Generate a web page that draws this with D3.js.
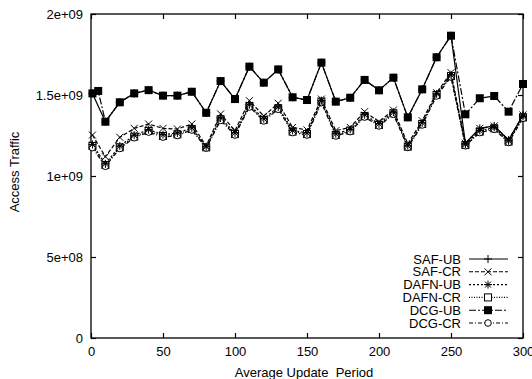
<!DOCTYPE html>
<html>
<head>
<meta charset="utf-8">
<script src="https://cdn.jsdelivr.net/npm/d3@7/dist/d3.min.js"></script>
<style>
  html, body { margin: 0; padding: 0; background: #fff; }
  svg text { font-family: "Liberation Sans", Arial, Helvetica, sans-serif; fill: #000; }
</style>
</head>
<body>
<main></main>
<script>
'use strict'

// update periods (x); DCG-UB has an extra sample at 5
var periodsUB = [1, 5, 10, 20, 30, 40, 50, 60, 70, 80, 90, 100, 110, 120, 130, 140, 150,
  160, 170, 180, 190, 200, 210, 220, 230, 240, 250, 260, 270, 280, 290, 300]
var periods = [1, 10, 20, 30, 40, 50, 60, 70, 80, 90, 100, 110, 120, 130, 140, 150,
  160, 170, 180, 190, 200, 210, 220, 230, 240, 250, 260, 270, 280, 290, 300]

// values in units of 1e9
var dcgUB = [1.510, 1.525, 1.335, 1.455, 1.510, 1.530, 1.496, 1.496, 1.520, 1.390, 1.586, 1.475,
  1.675, 1.576, 1.658, 1.486, 1.469, 1.700, 1.459, 1.483, 1.593, 1.529, 1.607, 1.362,
  1.535, 1.733, 1.866, 1.381, 1.480, 1.494, 1.397, 1.568]
var safUB = [1.510, 1.335, 1.455, 1.510, 1.530, 1.496, 1.496, 1.520, 1.390, 1.586, 1.475,
  1.675, 1.576, 1.658, 1.486, 1.469, 1.700, 1.459, 1.483, 1.593, 1.529, 1.607, 1.362,
  1.535, 1.733, 1.866, 1.202, 1.294, 1.309, 1.222, 1.377]
var safCR = [1.253, 1.119, 1.239, 1.294, 1.321, 1.294, 1.290, 1.321, 1.185, 1.383, 1.280,
  1.465, 1.370, 1.449, 1.300, 1.284, 1.475, 1.280, 1.300, 1.397, 1.335, 1.407, 1.198,
  1.341, 1.514, 1.638, 1.202, 1.294, 1.309, 1.222, 1.377]
var dafnUB = [1.195, 1.075, 1.185, 1.252, 1.286, 1.255, 1.265, 1.297, 1.181, 1.358, 1.266,
  1.440, 1.353, 1.426, 1.281, 1.266, 1.465, 1.260, 1.287, 1.378, 1.322, 1.394, 1.186,
  1.328, 1.507, 1.624, 1.196, 1.281, 1.300, 1.217, 1.368]
var dafnCR = [1.185, 1.068, 1.177, 1.243, 1.278, 1.247, 1.257, 1.290, 1.177, 1.350, 1.259,
  1.432, 1.346, 1.418, 1.274, 1.259, 1.459, 1.253, 1.280, 1.370, 1.315, 1.387, 1.181,
  1.321, 1.500, 1.617, 1.191, 1.274, 1.294, 1.212, 1.362]
var dcgCR = [1.175, 1.060, 1.170, 1.236, 1.271, 1.240, 1.250, 1.284, 1.172, 1.343, 1.253,
  1.426, 1.340, 1.412, 1.268, 1.253, 1.453, 1.247, 1.274, 1.364, 1.309, 1.381, 1.176,
  1.315, 1.494, 1.611, 1.187, 1.268, 1.288, 1.207, 1.356]

var xTicks = [0, 50, 100, 150, 200, 250, 300]
var yTicks = [0, 5e8, 1e9, 1.5e9, 2e9]
var yTickLabels = ['0', '5e+08', '1e+09', '1.5e+09', '2e+09']

var seriesNames = ['SAF-UB', 'SAF-CR', 'DAFN-UB', 'DAFN-CR', 'DCG-UB', 'DCG-CR']
var seriesX = [periods, periods, periods, periods, periodsUB, periods]
var seriesY = [safUB, safCR, dafnUB, dafnCR, dcgUB, dcgCR]

var styles = {
  'SAF-UB':  { dash: null,        marker: 'plus' },
  'SAF-CR':  { dash: '4,2',       marker: 'cross' },
  'DAFN-UB': { dash: '2,2',       marker: 'star' },
  'DAFN-CR': { dash: '1,1.5',     marker: 'square' },
  'DCG-UB':  { dash: '7,2,2,2',   marker: 'filled' },
  'DCG-CR':  { dash: '4,2,1,2',   marker: 'circle' }
}

var width = 532, height = 379
var margin = { top: 14, right: 9, bottom: 41, left: 91 }
var iw = width - margin.left - margin.right
var ih = height - margin.top - margin.bottom

var x = d3.scaleLinear().domain([0, 300]).range([0, iw])
var y = d3.scaleLinear().domain([0, 2e9]).range([ih, 0])

var svg = d3.select('main').append('svg')
  .attr('width', width)
  .attr('height', height)

var g = svg.append('g').attr('transform', 'translate(' + margin.left + ',' + margin.top + ')')

// frame + inward ticks on all sides
function axisStyle (sel) {
  sel.selectAll('.domain').remove()
  sel.selectAll('line').attr('stroke', '#000').attr('stroke-width', 1.2)
  sel.selectAll('text').attr('font-size', 13)
}

g.append('g').attr('transform', 'translate(0,' + ih + ')')
  .call(d3.axisBottom(x).tickValues(xTicks).tickSize(-5).tickPadding(9))
  .call(axisStyle)
g.append('g')
  .call(d3.axisTop(x).tickValues(xTicks).tickSize(-5).tickFormat(''))
  .call(axisStyle)
g.append('g')
  .call(d3.axisLeft(y).tickValues(yTicks).tickSize(-5).tickPadding(8)
    .tickFormat(function (d, i) { return yTickLabels[i] }))
  .call(axisStyle)
g.append('g').attr('transform', 'translate(' + iw + ',0)')
  .call(d3.axisRight(y).tickValues(yTicks).tickSize(-5).tickFormat(''))
  .call(axisStyle)

g.append('rect')
  .attr('width', iw).attr('height', ih)
  .attr('fill', 'none').attr('stroke', '#000').attr('stroke-width', 1.3)

svg.append('text')
  .attr('x', margin.left + iw / 2 - 3).attr('y', 377)
  .attr('text-anchor', 'middle').attr('font-size', 13)
  .style('white-space', 'pre')
  .text('Average Update  Period')

svg.append('text')
  .attr('transform', 'translate(19,' + (margin.top + 158) + ') rotate(-90)')
  .attr('text-anchor', 'middle').attr('font-size', 13)
  .text('Access Traffic')

function drawMarker (sel, type) {
  if (type === 'plus') {
    sel.append('path').attr('d', 'M-4,0H4M0,-4V4').attr('stroke', '#000').attr('stroke-width', 1)
  } else if (type === 'cross') {
    sel.append('path').attr('d', 'M-3.5,-3.5L3.5,3.5M-3.5,3.5L3.5,-3.5').attr('stroke', '#000').attr('stroke-width', 1)
  } else if (type === 'star') {
    sel.append('path').attr('d', 'M-4,0H4M0,-4V4M-3,-3L3,3M-3,3L3,-3').attr('stroke', '#000').attr('stroke-width', 1)
  } else if (type === 'square') {
    sel.append('rect').attr('x', -3.5).attr('y', -3.5).attr('width', 7).attr('height', 7)
      .attr('fill', '#fff').attr('stroke', '#000').attr('stroke-width', 1)
  } else if (type === 'filled') {
    sel.append('rect').attr('x', -4).attr('y', -4).attr('width', 8).attr('height', 8)
      .attr('fill', '#000')
  } else if (type === 'circle') {
    sel.append('circle').attr('r', 3.3)
      .attr('fill', '#fff').attr('stroke', '#000').attr('stroke-width', 1)
  }
}

var line = d3.line()
  .x(function (d) { return x(d[0]) })
  .y(function (d) { return y(d[1] * 1e9) })

// draw lower group first so the upper lines sit on top
var order = [3, 5, 2, 1, 0, 4]
order.forEach(function (i) {
  var name = seriesNames[i]
  var st = styles[name]
  var pts = seriesX[i].map(function (px, j) { return [px, seriesY[i][j]] })
  g.append('path')
    .datum(pts)
    .attr('d', line)
    .attr('fill', 'none')
    .attr('stroke', '#000')
    .attr('stroke-width', 1.2)
    .attr('stroke-dasharray', st.dash)
  g.selectAll(null)
    .data(pts)
    .enter().append('g')
    .attr('transform', function (d) { return 'translate(' + x(d[0]) + ',' + y(d[1] * 1e9) + ')' })
    .each(function () { drawMarker(d3.select(this), st.marker) })
})

// legend
var legend = svg.append('g')
var rowY = d3.scaleLinear().domain([0, 5]).range([259, 323])
seriesNames.forEach(function (name, i) {
  var st = styles[name]
  var ly = rowY(i)
  legend.append('text')
    .attr('x', 461).attr('y', ly + 4.5)
    .attr('text-anchor', 'end').attr('font-size', 13)
    .text(name)
  legend.append('line')
    .attr('x1', 469).attr('x2', 508).attr('y1', ly).attr('y2', ly)
    .attr('stroke', '#000').attr('stroke-width', 1.1)
    .attr('stroke-dasharray', st.dash)
  drawMarker(legend.append('g').attr('transform', 'translate(488,' + ly + ')'), st.marker)
})
</script>
</body>
</html>
